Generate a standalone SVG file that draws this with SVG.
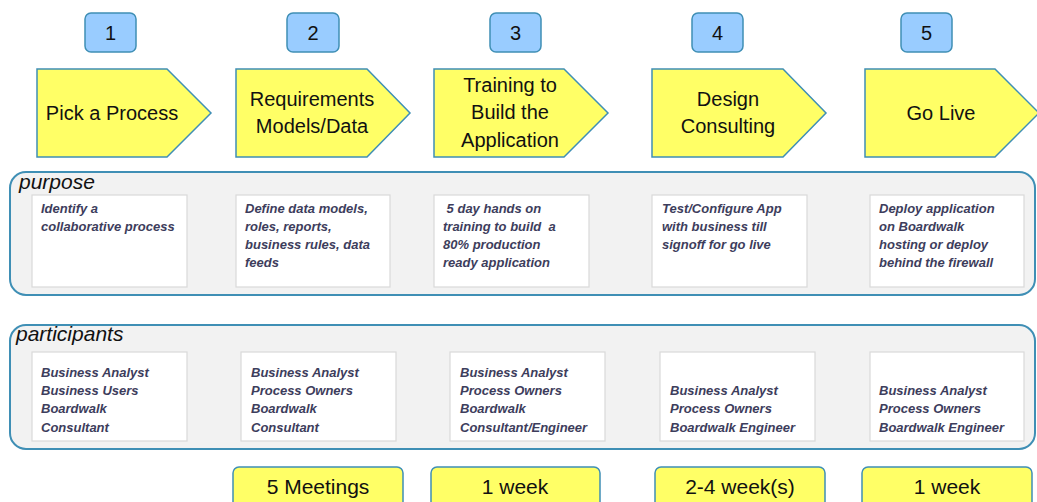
<svg xmlns="http://www.w3.org/2000/svg" width="1037" height="502" viewBox="0 0 1037 502">
<style>
.num rect{fill:#99ccff;stroke:#3f8fb5;stroke-width:1.5}
.num text{font-family:"Liberation Sans",Arial,sans-serif;font-size:20px;fill:#111;text-anchor:middle}
.arrow polygon{fill:#ffff66;stroke:#3f8fb5;stroke-width:1.5}
.arrow text{font-family:"Liberation Sans",Arial,sans-serif;font-size:20px;fill:#111;text-anchor:middle}
.panel{fill:#f2f2f2;stroke:#3f8fb5;stroke-width:2}
.plabel{font-family:"Liberation Sans",Arial,sans-serif;font-size:21px;font-style:italic;fill:#111}
.card rect{fill:#fff;stroke:#d9d9d9;stroke-width:1.2}
.card text{font-family:"Liberation Sans",Arial,sans-serif;font-size:13px;font-weight:bold;font-style:italic;fill:#3d3d5c}
.dur rect{fill:#ffff66;stroke:#3f8fb5;stroke-width:1.5}
.dur text{font-family:"Liberation Sans",Arial,sans-serif;font-size:21px;fill:#111;text-anchor:middle}
</style>

<g id="connectors"></g>

<!-- step numbers -->
<g id="num1" class="num"><rect x="85" y="13" width="51" height="39" rx="6"/><text x="110.5" y="40">1</text></g>
<g id="num2" class="num"><rect x="287" y="13" width="52" height="39" rx="6"/><text x="313" y="40">2</text></g>
<g id="num3" class="num"><rect x="490" y="13" width="51" height="39" rx="6"/><text x="515.5" y="40">3</text></g>
<g id="num4" class="num"><rect x="692" y="13" width="51" height="39" rx="6"/><text x="717.5" y="40">4</text></g>
<g id="num5" class="num"><rect x="901" y="13" width="51" height="39" rx="6"/><text x="926.5" y="40">5</text></g>

<!-- chevrons -->
<g id="step1" class="arrow"><polygon points="37,69 167,69 211,113 167,157 37,157"/><text x="112" y="120">Pick a Process</text></g>
<g id="step2" class="arrow"><polygon points="236,69 367,69 410,113 367,157 236,157"/><text x="312" y="106">Requirements</text><text x="312" y="133">Models/Data</text></g>
<g id="step3" class="arrow"><polygon points="434,69 564,69 608,113 564,157 434,157"/><text x="510" y="92">Training to</text><text x="510" y="119">Build the</text><text x="510" y="147">Application</text></g>
<g id="step4" class="arrow"><polygon points="652,69 783,69 826,113 783,157 652,157"/><text x="728" y="106">Design</text><text x="728" y="133">Consulting</text></g>
<g id="step5" class="arrow"><polygon points="865,69 995,69 1039,113 995,157 865,157"/><text x="941" y="120">Go Live</text></g>

<!-- purpose panel -->
<g id="purpose">
<rect class="panel" x="10" y="172" width="1025" height="123" rx="16"/>
<text class="plabel" x="19" y="189">purpose</text>
<g id="purpose1" class="card"><rect x="32" y="195" width="155" height="92"/><text x="41" y="213">Identify a</text><text x="41" y="231">collaborative process</text></g>
<g id="purpose2" class="card"><rect x="236" y="195" width="154" height="92"/><text x="245" y="213">Define data models,</text><text x="245" y="231">roles, reports,</text><text x="245" y="249">business rules, data</text><text x="245" y="267">feeds</text></g>
<g id="purpose3" class="card"><rect x="434" y="195" width="155" height="92"/><text x="443" y="213" xml:space="preserve"> 5 day hands on</text><text x="443" y="231" xml:space="preserve">training to build  a</text><text x="443" y="249">80% production</text><text x="443" y="267">ready application</text></g>
<g id="purpose4" class="card"><rect x="652" y="195" width="155" height="92"/><text x="662" y="213">Test/Configure App</text><text x="662" y="231">with business till</text><text x="662" y="249">signoff for go live</text></g>
<g id="purpose5" class="card"><rect x="870" y="195" width="154" height="92"/><text x="879" y="213">Deploy application</text><text x="879" y="231">on Boardwalk</text><text x="879" y="249">hosting or deploy</text><text x="879" y="267">behind the firewall</text></g>
</g>

<!-- participants panel -->
<g id="participants">
<rect class="panel" x="10" y="325" width="1025" height="124" rx="16"/>
<text class="plabel" x="16" y="341">participants</text>
<g id="part1" class="card"><rect x="32" y="352" width="155" height="89"/><text x="41" y="377">Business Analyst</text><text x="41" y="395">Business Users</text><text x="41" y="413">Boardwalk</text><text x="41" y="432">Consultant</text></g>
<g id="part2" class="card"><rect x="241" y="352" width="155" height="89"/><text x="251" y="377">Business Analyst</text><text x="251" y="395">Process Owners</text><text x="251" y="413">Boardwalk</text><text x="251" y="432">Consultant</text></g>
<g id="part3" class="card"><rect x="450" y="352" width="155" height="89"/><text x="460" y="377">Business Analyst</text><text x="460" y="395">Process Owners</text><text x="460" y="413">Boardwalk</text><text x="460" y="432">Consultant/Engineer</text></g>
<g id="part4" class="card"><rect x="660" y="352" width="155" height="89"/><text x="670" y="395">Business Analyst</text><text x="670" y="413">Process Owners</text><text x="670" y="432">Boardwalk Engineer</text></g>
<g id="part5" class="card"><rect x="870" y="352" width="154" height="89"/><text x="879" y="395">Business Analyst</text><text x="879" y="413">Process Owners</text><text x="879" y="432">Boardwalk Engineer</text></g>
</g>

<!-- durations -->
<g id="dur2" class="dur"><rect x="233" y="467" width="170" height="45" rx="6"/><text x="318" y="494">5 Meetings</text></g>
<g id="dur3" class="dur"><rect x="431" y="467" width="169" height="45" rx="6"/><text x="515" y="494">1 week</text></g>
<g id="dur4" class="dur"><rect x="655" y="467" width="170" height="45" rx="6"/><text x="740" y="494">2-4 week(s)</text></g>
<g id="dur5" class="dur"><rect x="862" y="467" width="170" height="45" rx="6"/><text x="947" y="494">1 week</text></g>
</svg>
